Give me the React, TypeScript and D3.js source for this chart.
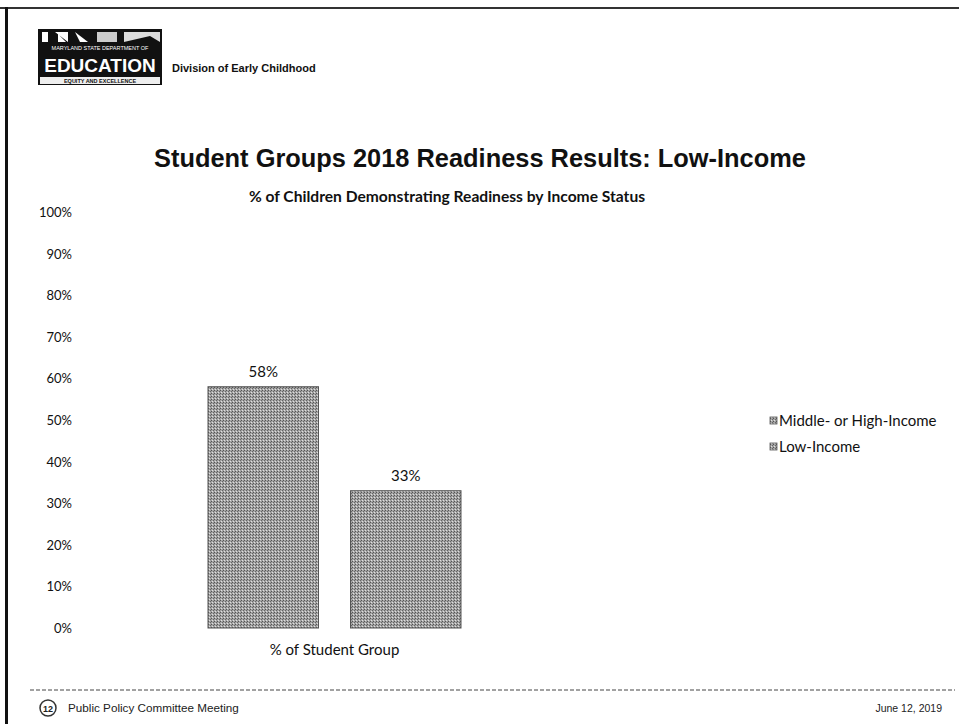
import React from "react";
import * as d3 from "d3";

const categories = ["% of Student Group"];
const seriesNames = ["Middle- or High-Income", "Low-Income"];
const seriesValues = [58, 33];
const yTicks = [0, 10, 20, 30, 40, 50, 60, 70, 80, 90, 100];

export default function App() {
  const W = 959, H = 724;
  const y = d3.scaleLinear().domain([0, 100]).range([628, 212]);
  const x0 = d3.scaleBand().domain(categories).range([208, 461]).padding(0);
  const x1 = d3.scaleBand().domain(seriesNames).range([0, x0.bandwidth()]).paddingInner(0.2246).paddingOuter(0);
  const sans = "'Liberation Sans', Arial, sans-serif";
  const cal = "Lato, 'Open Sans', sans-serif";
  return (
    <svg width={W} height={H} style={{ position: "absolute", left: 0, top: 0, background: "#fff" }}>
      <defs>
        <pattern id="dith" width="3" height="3" patternUnits="userSpaceOnUse">
          <rect width="3" height="3" fill="#a4a4a4" />
          <rect x="0" y="0" width="1" height="1" fill="#555" />
          <rect x="2" y="1" width="1" height="1" fill="#666" />
          <rect x="1" y="2" width="1" height="1" fill="#e0e0e0" />
        </pattern>
      </defs>
      <rect x={0} y={0} width={W} height={H} fill="#fff" />
      {/* page border */}
      <line x1={0} x2={W} y1={8} y2={8} stroke="#333" strokeWidth={2} />
      <line x1={6.5} x2={6.5} y1={7} y2={H} stroke="#111" strokeWidth={3} />
      {/* logo */}
      <g>
        <rect x={38} y={29} width={124} height={56} fill="#111" />
        <rect x={42} y={32} width={6} height={10} fill="#fff" />
        <path d="M55 32 L68 32 L68 42 Z M58 42 L58 34 L66 42 Z" fill="#fff" />
        <path d="M75 32 L88 42 L80 42 Z" fill="#fff" />
        <rect x={97} y={32} width={20} height={10} fill="#ccc" />
        <path d="M124 32 L160 32 L160 42 L150 36 L124 42 Z" fill="#ddd" />
        <text x={100} y={50} textAnchor="middle" fill="#fff" fontFamily={sans} fontSize={5.5}>MARYLAND STATE DEPARTMENT OF</text>
        <text x={100} y={72} textAnchor="middle" fill="#fff" fontFamily={sans} fontWeight="bold" fontSize={19}>EDUCATION</text>
        <rect x={40} y={77} width={120} height={7} fill="#eee" />
        <text x={100} y={83} textAnchor="middle" fill="#111" fontFamily={sans} fontWeight="bold" fontSize={5.5}>EQUITY AND EXCELLENCE</text>
      </g>
      <text x={172} y={72} fontFamily={sans} fontWeight="bold" fontSize={11} fill="#111">Division of Early Childhood</text>
      {/* titles */}
      <text x={480} y={167} textAnchor="middle" fontFamily={sans} fontWeight="bold" fontSize={25.4} fill="#111">
        Student Groups 2018 Readiness Results: Low-Income
      </text>
      <text x={447} y={202} textAnchor="middle" fontFamily={cal} fontWeight="bold" fontSize={15.6} fill="#111">
        % of Children Demonstrating Readiness by Income Status
      </text>
      {/* y axis labels */}
      {yTicks.map((t) => (
        <text key={t} x={72} y={y(t) + 5} textAnchor="end" fontFamily={cal} fontSize={13} fill="#111">
          {t}%
        </text>
      ))}
      {/* bars */}
      {categories.map((c) => (
        <g key={c} transform={`translate(${x0(c)},0)`}>
          {seriesNames.map((s, i) => (
            <g key={s}>
              <rect x={x1(s)} y={y(seriesValues[i])} width={x1.bandwidth()} height={y(0) - y(seriesValues[i])}
                fill="url(#dith)" stroke="#555" strokeWidth={1} />
              <text x={(x1(s) as number) + x1.bandwidth() / 2} y={y(seriesValues[i]) - 10} textAnchor="middle"
                fontFamily={cal} fontSize={15} fill="#111">
                {seriesValues[i]}%
              </text>
            </g>
          ))}
          <text x={x0.bandwidth() / 2} y={655} textAnchor="middle" fontFamily={cal} fontSize={15} fill="#111">{c}</text>
        </g>
      ))}
      {/* legend */}
      {seriesNames.map((s, i) => (
        <g key={s} transform={`translate(770, ${421 + i * 26})`}>
          <rect x={0} y={-4} width={7} height={7} fill="url(#dith)" stroke="#555" strokeWidth={0.8} />
          <text x={9} y={5} fontFamily={cal} fontSize={15} fill="#111">{s}</text>
        </g>
      ))}
      {/* footer */}
      <line x1={30} x2={955} y1={690} y2={690} stroke="#444" strokeWidth={1} strokeDasharray="4 2" />
      <circle cx={48} cy={708} r={8} fill="#fff" stroke="#333" strokeWidth={1.5} />
      <text x={48} y={712} textAnchor="middle" fontFamily={sans} fontWeight="bold" fontSize={9} fill="#222">12</text>
      <text x={68} y={712} fontFamily={sans} fontSize={11.7} fill="#222">Public Policy Committee Meeting</text>
      <text x={942} y={712} textAnchor="end" fontFamily={sans} fontSize={10.5} fill="#222">June 12, 2019</text>
    </svg>
  );
}
